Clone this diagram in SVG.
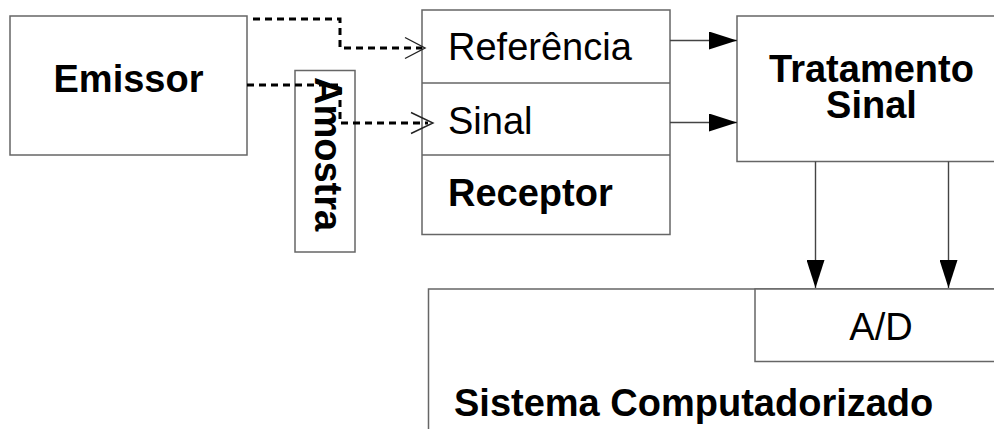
<svg xmlns="http://www.w3.org/2000/svg" width="994" height="429" viewBox="0 0 994 429">
  <style>
    .box { fill: #ffffff; stroke: #666666; stroke-width: 1.5; }
    .div { stroke: #666666; stroke-width: 1.5; }
    .lbl { font-family: "Liberation Sans", Arial, sans-serif; font-size: 38px; fill: #000000; }
    .b { font-weight: bold; }
    .solid { fill: none; stroke: #444444; stroke-width: 1.4; }
    .dash { fill: none; stroke: #000000; stroke-width: 3; stroke-dasharray: 7 5; }
    .open { fill: none; stroke: #222222; stroke-width: 1.4; }
  </style>
  <defs>
    <marker id="solidHead" markerUnits="userSpaceOnUse" markerWidth="28" markerHeight="18" refX="28" refY="9" orient="auto" viewBox="0 0 28 18">
      <path d="M0,0 L28,9 L0,18 Z" fill="#000000"/>
    </marker>
  </defs>

  <rect width="994" height="429" fill="#ffffff"/>

  <g id="emissor">
    <rect class="box" x="10" y="16" width="237" height="139"/>
    <text class="lbl b" x="128.5" y="92" text-anchor="middle">Emissor</text>
  </g>

  <g id="amostra">
    <rect class="box" x="295" y="70.5" width="60" height="181.5"/>
    <text class="lbl b" transform="translate(315,77) rotate(90)">Amostra</text>
  </g>

  <g id="receptor">
    <rect class="box" x="422" y="10" width="248" height="224.5"/>
    <line class="div" x1="422" y1="83" x2="670" y2="83"/>
    <line class="div" x1="422" y1="155" x2="670" y2="155"/>
    <text class="lbl" x="448" y="60">Referência</text>
    <text class="lbl" x="448" y="133.5">Sinal</text>
    <text class="lbl b" x="448" y="206">Receptor</text>
  </g>

  <g id="tratamento">
    <rect class="box" x="737" y="16" width="270" height="145.5"/>
    <text class="lbl b" x="871.5" y="82" text-anchor="middle">Tratamento</text>
    <text class="lbl b" x="871.5" y="118" text-anchor="middle">Sinal</text>
  </g>

  <g id="sistema">
    <rect class="box" x="428.5" y="289" width="580" height="160"/>
    <text class="lbl b" x="454" y="416">Sistema Computadorizado</text>
  </g>

  <g id="ad">
    <rect class="box" x="755" y="289" width="252" height="72.5"/>
    <text class="lbl" x="881" y="339.5" text-anchor="middle">A/D</text>
  </g>

  <g id="connectors">
    <!-- emissor to referência / amostra to sinal (dashed, open heads) -->
    <path class="dash" d="M253,19 H340 V48 H422"/>
    <path class="open" d="M405,37.5 L425,48 L405,58.5"/>
    <path class="dash" d="M247,85 H340 V123 H428"/>
    <path class="open" d="M411,112.5 L433,123 L411,133.5"/>
    <!-- receptor to tratamento -->
    <line class="solid" x1="670" y1="40.5" x2="737" y2="40.5" marker-end="url(#solidHead)"/>
    <line class="solid" x1="670" y1="122.5" x2="737" y2="122.5" marker-end="url(#solidHead)"/>
    <!-- tratamento to A/D -->
    <line class="solid" x1="815.5" y1="161.5" x2="815.5" y2="288" marker-end="url(#solidHead)"/>
    <line class="solid" x1="948.5" y1="161.5" x2="948.5" y2="288" marker-end="url(#solidHead)"/>
  </g>
</svg>
